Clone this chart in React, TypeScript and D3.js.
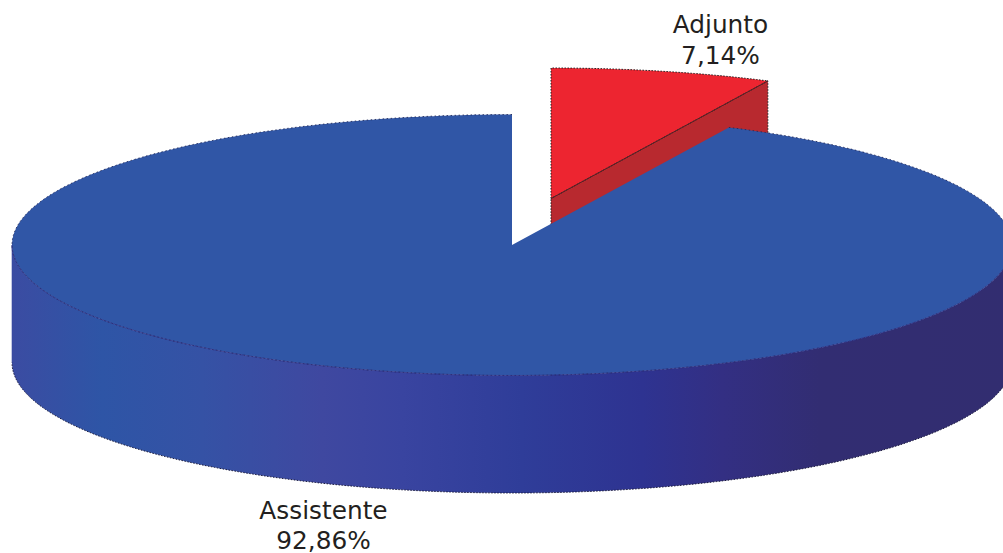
import React from "react";
import * as d3 from "d3";

const categories = ["Adjunto", "Assistente"];
const values = [7.14, 92.86];
const valueLabels = ["7,14%", "92,86%"];
const wallStopOffsets = [0, 0.09, 0.19, 0.31, 0.39, 0.51, 0.63, 0.71, 0.81, 1];
const wallStopColors = ["#3b4ca2", "#2e55a6", "#3552a5", "#3f48a0", "#3944a0", "#2f3d99", "#2e3391", "#332f83", "#322d72", "#322d70"];

const W = 1003, H = 553;
const cx = 512, cy = 245, rx = 500, ry = 130.5, depth = 117.5;
const explode = { x: 39, y: -46.5 };
const FONT = "'DejaVu Sans', Verdana, sans-serif";
const TEXT = "#231f20";
const BLUE = "#3056a6";
const RED = "#ed2530";
const RED_DARK = "#b8292f";

type P = [number, number];
const project = (t: number, o = { x: 0, y: 0 }): P => [cx + o.x + rx * Math.sin(t), cy + o.y - ry * Math.cos(t)];

const sweep = (a: number, b: number) => {
  const n = Math.max(2, Math.ceil(Math.abs(b - a) * 120));
  return d3.range(n + 1).map((i) => a + ((b - a) * i) / n);
};

export default function App() {
  const arcs = d3.pie<number>().sort(null)(values);
  const [adj, ass] = arcs;
  const line = d3.line<P>();

  const front = sweep(Math.PI / 2, (3 * Math.PI) / 2);
  const wall = d3
    .area<number>()
    .x((t) => project(t)[0])
    .y0((t) => project(t)[1])
    .y1((t) => project(t)[1] + depth)(front) as string;
  const wallBottom = line(front.map((t) => [project(t)[0], project(t)[1] + depth] as P)) as string;
  const wallTopEdge = line(front.map((t) => project(t))) as string;

  const blueTop =
    line([[cx, cy], ...sweep(ass.startAngle, ass.endAngle).map((t) => project(t))] as P[]) + "Z";
  const blueRim = line(sweep(ass.startAngle, ass.endAngle).map((t) => project(t))) as string;

  const redRim = sweep(adj.startAngle, adj.endAngle).map((t) => project(t, explode));
  const apex: P = [cx + explode.x, cy + explode.y];
  const redTop = line([apex, ...redRim] as P[]) + "Z";
  const redEnd = redRim[redRim.length - 1];
  const redWall =
    line([apex, redEnd, [redEnd[0], redEnd[1] + depth], [apex[0], apex[1] + depth]] as P[]) + "Z";
  const redCut = line([apex, redEnd]) as string;

  const x = d3.scaleLinear().domain([0, 1]).range([cx - rx, cx + rx]);
  const sideLeft = line([project(-Math.PI / 2), [project(-Math.PI / 2)[0], project(-Math.PI / 2)[1] + depth]]) as string;

  const labelStyle: React.CSSProperties = { fontFamily: FONT, fontSize: 24.8, fill: TEXT };

  return (
    <svg
      width={W}
      height={H}
      viewBox={`0 0 ${W} ${H}`}
      style={{ position: "absolute", left: 0, top: 0, background: "#fff" }}
    >
      <defs>
        <linearGradient id="wallGrad" gradientUnits="userSpaceOnUse" x1={x(0)} x2={x(1)} y1={0} y2={0}>
          {wallStopOffsets.map((o, i) => (
            <stop key={i} offset={o} stopColor={wallStopColors[i]} />
          ))}
        </linearGradient>
      </defs>

      <path d={redWall} fill={RED_DARK} />
      <path d={redWall} fill="none" stroke="#222" strokeWidth={1} strokeDasharray="1.5 1.5" />
      <path d={redTop} fill={RED} />
      <path d={redTop} fill="none" stroke="#222" strokeWidth={1} strokeDasharray="1.5 1.5" />
      <path d={redCut} fill="none" stroke="#5a2025" strokeWidth={1} />

      <path d={wall} fill="url(#wallGrad)" />
      <path d={wallBottom} fill="none" stroke="#1c1c3c" strokeWidth={1} strokeDasharray="1.5 1.5" />
      <path d={sideLeft} fill="none" stroke={wallStopColors[0]} strokeWidth={0.6} />

      <path d={blueTop} fill={BLUE} />
      <path d={blueRim} fill="none" stroke="#222a5a" strokeWidth={0.9} strokeDasharray="1.5 2.5" />
      <path d={wallTopEdge} fill="none" stroke="#2f2f86" strokeWidth={0.9} opacity={0.8} />

      <g style={labelStyle} textAnchor="middle">
        <text x={720.5} y={33}>{categories[0]}</text>
        <text x={720.5} y={64}>{valueLabels[0]}</text>
        <text x={323.5} y={519}>{categories[1]}</text>
        <text x={323.5} y={549}>{valueLabels[1]}</text>
      </g>
    </svg>
  );
}
